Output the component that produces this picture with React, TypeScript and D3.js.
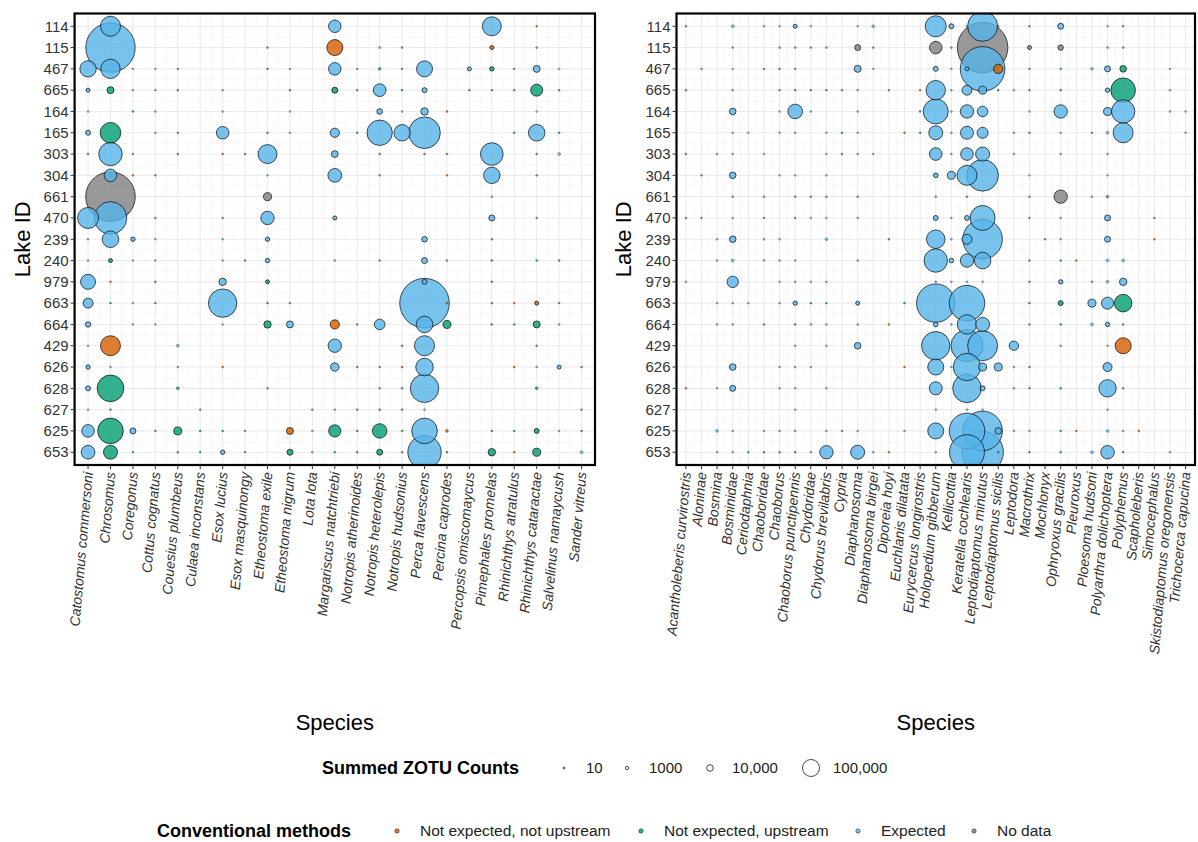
import React from 'react';
import * as d3 from 'd3';

// Lake IDs, top to bottom
const lakes = ['114', '115', '467', '665', '164', '165', '303', '304', '661', '470', '239', '240', '979', '663', '664', '429', '626', '628', '627', '625', '653'];

const fishSpecies = [
  'Catostomus commersoni', 'Chrosomus', 'Coregonus', 'Cottus cognatus', 'Couesius plumbeus',
  'Culaea inconstans', 'Esox lucius', 'Esox masquinongy', 'Etheostoma exile', 'Etheostoma nigrum',
  'Lota lota', 'Margariscus natchtriebi', 'Notropis atherinoides', 'Notropis heterolepis',
  'Notropis hudsonius', 'Perca flavescens', 'Percina caprodes', 'Percopsis omiscomaycus',
  'Pimephales promelas', 'Rhinichthys atratulus', 'Rhinichthys cataractae', 'Salvelinus namaycush',
  'Sander vitreus',
];

const zooSpecies = [
  'Acantholeberis curvirostris', 'Aloninae', 'Bosmina', 'Bosminidae', 'Ceriodaphnia', 'Chaoboridae',
  'Chaoborus', 'Chaoborus punctipennis', 'Chydoridae', 'Chydorus brevilabris', 'Cypria',
  'Diaphanosoma', 'Diaphanosoma birgei', 'Diporeia hoyi', 'Euchlanis dilatata',
  'Eurycercus longirostris', 'Holopedium gibberum', 'Kellicottia', 'Keratella cochlearis',
  'Leptodiaptomus minutus', 'Leptodiaptomus sicilis', 'Leptodora', 'Macrothrix', 'Mochlonyx',
  'Ophryoxus gracilis', 'Pleuroxus', 'Ploesoma hudsoni', 'Polyarthra dolichoptera', 'Polyphemus',
  'Scapholeberis', 'Simocephalus', 'Skistodiaptomus oregonensis', 'Trichocerca capucina',
];

// status: o = not expected, not upstream; g = not expected, upstream; b = expected; n = no data
type Obs = [number, string, number]; // [species index, status, summed ZOTU count]

// one list per lake, same order as `lakes`
const fishObs: Obs[][] = [
  [[1, 'b', 144000], [11, 'b', 50000], [18, 'b', 128000], [20, 'o', 10]],
  [[1, 'b', 982000], [8, 'o', 10], [11, 'o', 87500], [13, 'o', 10], [14, 'o', 10], [18, 'o', 2100], [20, 'o', 10]],
  [[0, 'b', 92000], [1, 'b', 134500], [2, 'b', 10], [3, 'b', 10], [4, 'o', 10], [8, 'g', 10], [9, 'b', 10], [11, 'b', 50000], [12, 'o', 10], [13, 'g', 600], [14, 'g', 10], [15, 'b', 87500], [17, 'b', 2100], [18, 'g', 3000], [19, 'o', 10], [20, 'b', 11700], [21, 'b', 10]],
  [[0, 'b', 2100], [1, 'g', 11700], [2, 'b', 10], [3, 'b', 10], [4, 'g', 10], [6, 'b', 10], [9, 'g', 10], [11, 'g', 7650], [12, 'o', 10], [13, 'b', 52000], [14, 'g', 10], [15, 'b', 4400], [17, 'g', 10], [18, 'g', 10], [19, 'o', 10], [20, 'g', 45000], [21, 'g', 10]],
  [[0, 'b', 10], [2, 'g', 10], [3, 'b', 10], [6, 'b', 10], [9, 'b', 10], [13, 'b', 6300], [14, 'b', 10], [15, 'b', 13600], [16, 'o', 10], [20, 'b', 10]],
  [[0, 'b', 4400], [1, 'g', 153500], [3, 'b', 10], [4, 'o', 10], [6, 'b', 50600], [8, 'o', 10], [9, 'b', 10], [11, 'b', 24000], [12, 'g', 10], [13, 'b', 241000], [14, 'b', 92500], [15, 'b', 385000], [19, 'g', 10], [20, 'b', 95000], [21, 'g', 10]],
  [[0, 'o', 10], [1, 'b', 202000], [2, 'o', 10], [4, 'o', 10], [6, 'o', 10], [7, 'o', 10], [8, 'b', 128000], [11, 'b', 11000], [13, 'o', 10], [15, 'o', 10], [16, 'o', 10], [18, 'b', 188000], [20, 'o', 10], [21, 'b', 600]],
  [[1, 'b', 50600], [2, 'o', 10], [3, 'o', 10], [8, 'b', 10], [11, 'b', 62000], [13, 'o', 10], [16, 'o', 10], [18, 'b', 92500], [20, 'o', 10]],
  [[1, 'n', 990000], [8, 'n', 16700], [18, 'n', 10]],
  [[0, 'b', 160000], [1, 'b', 412000], [3, 'n', 10], [6, 'n', 10], [8, 'b', 58400], [11, 'b', 2100], [18, 'b', 7650], [20, 'n', 10]],
  [[0, 'b', 10], [1, 'b', 95000], [2, 'b', 2900], [3, 'b', 10], [6, 'b', 10], [8, 'b', 2900], [15, 'b', 6300], [18, 'o', 10]],
  [[0, 'b', 10], [1, 'g', 2100], [2, 'b', 10], [3, 'b', 10], [6, 'b', 10], [7, 'o', 10], [8, 'b', 2900], [11, 'b', 10], [13, 'o', 10], [15, 'b', 7650], [16, 'o', 10], [18, 'g', 10], [20, 'g', 10], [21, 'g', 10]],
  [[0, 'b', 75600], [1, 'o', 10], [3, 'g', 10], [6, 'b', 13600], [8, 'g', 2100], [15, 'b', 4400], [18, 'g', 10]],
  [[0, 'b', 29000], [1, 'g', 10], [2, 'b', 10], [3, 'g', 10], [6, 'b', 307000], [8, 'g', 10], [9, 'o', 10], [15, 'b', 990000], [16, 'o', 10], [18, 'g', 10], [19, 'o', 10], [20, 'o', 2100], [21, 'o', 10]],
  [[0, 'b', 5600], [2, 'b', 10], [3, 'b', 10], [6, 'b', 10], [8, 'g', 13600], [9, 'b', 11700], [11, 'o', 24000], [12, 'o', 10], [13, 'b', 33600], [15, 'b', 95000], [16, 'g', 16700], [18, 'g', 10], [19, 'g', 10], [20, 'g', 11700], [21, 'b', 10]],
  [[0, 'b', 10], [1, 'o', 143700], [4, 'b', 600], [11, 'b', 58000], [14, 'o', 10], [15, 'b', 143700], [20, 'o', 10]],
  [[0, 'b', 2900], [1, 'b', 10], [4, 'b', 10], [6, 'o', 10], [11, 'b', 19000], [12, 'o', 10], [13, 'o', 10], [14, 'o', 10], [15, 'b', 108000], [19, 'o', 10], [20, 'b', 10], [21, 'b', 2100], [22, 'o', 10]],
  [[0, 'b', 4400], [1, 'g', 267000], [4, 'g', 600], [8, 'o', 10], [13, 'o', 10], [14, 'g', 10], [15, 'b', 307000], [20, 'g', 600]],
  [[0, 'b', 10], [1, 'g', 10], [5, 'o', 10], [10, 'o', 10], [11, 'b', 10], [12, 'o', 10], [13, 'g', 10], [14, 'g', 10], [15, 'b', 10], [22, 'o', 10]],
  [[0, 'b', 50600], [1, 'g', 246000], [2, 'b', 7650], [3, 'g', 10], [4, 'g', 16700], [5, 'g', 10], [6, 'g', 10], [7, 'o', 10], [9, 'o', 11700], [10, 'b', 10], [11, 'g', 47000], [12, 'g', 10], [13, 'g', 70000], [14, 'g', 10], [15, 'b', 246000], [16, 'o', 600], [18, 'g', 10], [19, 'g', 10], [20, 'g', 4400], [21, 'b', 10], [22, 'g', 10]],
  [[0, 'b', 62000], [1, 'g', 64600], [2, 'g', 10], [4, 'g', 10], [5, 'g', 10], [6, 'b', 2900], [7, 'g', 10], [9, 'g', 7650], [10, 'b', 10], [11, 'g', 10], [12, 'g', 10], [13, 'g', 7650], [14, 'g', 10], [15, 'b', 433000], [16, 'g', 10], [18, 'g', 13600], [19, 'o', 10], [20, 'g', 16700], [22, 'b', 600]],
];

const zooObs: Obs[][] = [
  [[0, 'o', 10], [3, 'b', 600], [5, 'b', 10], [6, 'b', 10], [7, 'b', 2100], [8, 'b', 10], [11, 'b', 10], [12, 'b', 600], [16, 'b', 160000], [17, 'b', 4400], [18, 'b', 10], [19, 'b', 345000], [20, 'o', 10], [22, 'o', 10], [24, 'b', 7650], [27, 'b', 10], [28, 'o', 10]],
  [[3, 'n', 10], [6, 'n', 10], [7, 'n', 10], [8, 'n', 10], [9, 'n', 10], [11, 'n', 7650], [12, 'n', 10], [16, 'n', 50000], [17, 'n', 10], [19, 'n', 1033000], [22, 'n', 2100], [24, 'n', 5600], [27, 'n', 10], [28, 'n', 10]],
  [[1, 'n', 10], [3, 'b', 10], [5, 'g', 10], [6, 'g', 10], [7, 'g', 10], [11, 'b', 11700], [12, 'b', 10], [16, 'b', 4400], [17, 'b', 10], [18, 'b', 2100], [19, 'b', 794000], [20, 'o', 25000], [22, 'g', 10], [24, 'g', 10], [26, 'b', 600], [27, 'b', 7650], [28, 'g', 10000], [31, 'b', 10]],
  [[0, 'o', 10], [3, 'b', 10], [6, 'g', 10], [7, 'g', 10], [8, 'g', 10], [9, 'g', 10], [10, 'o', 10], [11, 'b', 10], [13, 'o', 10], [15, 'o', 10], [16, 'b', 134500], [17, 'b', 10], [18, 'b', 29000], [19, 'b', 16700], [20, 'g', 10], [21, 'b', 10], [22, 'g', 10], [24, 'g', 10], [27, 'b', 2900], [28, 'g', 225000], [31, 'b', 10]],
  [[3, 'b', 10000], [6, 'b', 10], [7, 'b', 71000], [8, 'b', 10], [11, 'b', 10], [15, 'g', 10], [16, 'b', 233000], [17, 'b', 10], [18, 'b', 58400], [19, 'b', 33600], [22, 'b', 10], [24, 'b', 58400], [27, 'b', 16700], [28, 'b', 202000], [31, 'b', 10], [32, 'b', 10]],
  [[3, 'b', 10], [4, 'b', 10], [6, 'b', 10], [7, 'b', 10], [9, 'b', 10], [10, 'g', 10], [11, 'b', 10], [14, 'o', 10], [15, 'g', 10], [16, 'b', 64600], [17, 'b', 10], [18, 'b', 54400], [19, 'b', 36700], [21, 'b', 10], [22, 'g', 10], [24, 'b', 10], [26, 'o', 10], [27, 'b', 600], [28, 'b', 143700], [32, 'b', 10]],
  [[0, 'o', 10], [2, 'b', 10], [3, 'b', 10], [5, 'b', 10], [9, 'b', 10], [10, 'o', 10], [11, 'b', 10], [12, 'b', 10], [16, 'b', 50600], [17, 'b', 10], [18, 'b', 50600], [19, 'b', 64600], [21, 'b', 10], [24, 'b', 10], [27, 'b', 10]],
  [[1, 'o', 10], [3, 'b', 10000], [6, 'b', 10], [7, 'b', 10], [9, 'b', 10], [16, 'b', 3500], [17, 'b', 16700], [18, 'b', 143700], [19, 'b', 385000], [22, 'b', 10], [27, 'b', 10]],
  [[3, 'n', 10], [5, 'n', 10], [7, 'n', 10], [8, 'n', 10], [9, 'n', 10], [11, 'n', 10], [16, 'n', 10], [18, 'n', 10], [22, 'n', 10], [24, 'n', 58400], [26, 'n', 10], [27, 'n', 600]],
  [[0, 'n', 10], [1, 'n', 10], [3, 'b', 10], [5, 'n', 10], [7, 'n', 10], [8, 'b', 10], [9, 'b', 10], [11, 'b', 10], [16, 'b', 4400], [17, 'b', 10], [18, 'b', 4400], [19, 'b', 233000], [22, 'n', 10], [24, 'b', 10], [27, 'b', 7650], [30, 'n', 10]],
  [[2, 'b', 10], [3, 'b', 10000], [5, 'b', 10], [6, 'b', 10], [9, 'b', 600], [13, 'o', 10], [16, 'b', 122000], [17, 'b', 10], [18, 'b', 29000], [19, 'b', 620000], [23, 'o', 10], [24, 'b', 10], [27, 'b', 7650], [30, 'o', 10]],
  [[2, 'b', 10], [3, 'b', 600], [5, 'b', 10], [6, 'b', 10], [7, 'b', 10], [11, 'b', 10], [16, 'b', 202000], [17, 'b', 3500], [18, 'b', 58400], [19, 'b', 95000], [22, 'g', 10], [24, 'g', 10], [25, 'o', 10], [27, 'b', 600], [28, 'b', 600]],
  [[0, 'b', 10], [3, 'b', 40000], [6, 'b', 10], [7, 'b', 10], [8, 'b', 10], [9, 'b', 10], [16, 'b', 10], [17, 'b', 10], [18, 'b', 10], [19, 'b', 10], [22, 'g', 10], [24, 'b', 2900], [26, 'o', 10], [27, 'b', 600], [28, 'b', 13600]],
  [[2, 'b', 10], [3, 'b', 10], [4, 'b', 10], [6, 'b', 10], [7, 'b', 2900], [8, 'g', 10], [9, 'g', 10], [11, 'b', 2100], [14, 'g', 10], [16, 'b', 582000], [18, 'b', 495000], [22, 'g', 10], [24, 'g', 4400], [26, 'b', 16700], [27, 'b', 45000], [28, 'g', 108000]],
  [[2, 'b', 10], [3, 'b', 10], [5, 'g', 10], [7, 'g', 10], [8, 'b', 10], [9, 'b', 10], [11, 'b', 10], [13, 'o', 10], [16, 'b', 3500], [17, 'b', 10], [18, 'b', 134500], [19, 'b', 64600], [22, 'g', 10], [24, 'g', 10], [26, 'b', 600], [27, 'b', 2900], [28, 'g', 10]],
  [[7, 'b', 10], [9, 'b', 10], [11, 'b', 10000], [16, 'b', 307000], [18, 'b', 396000], [19, 'b', 345000], [21, 'b', 25000], [24, 'b', 10], [27, 'b', 10], [28, 'o', 87500]],
  [[3, 'b', 10000], [6, 'b', 10], [7, 'b', 10], [8, 'b', 10], [14, 'o', 10], [16, 'b', 87500], [17, 'b', 10], [18, 'b', 284000], [19, 'b', 16700], [20, 'b', 16700], [21, 'b', 10], [22, 'o', 10], [27, 'b', 22500]],
  [[0, 'o', 10], [2, 'b', 10], [3, 'b', 7650], [6, 'b', 10], [7, 'b', 10], [9, 'b', 10], [16, 'b', 54400], [18, 'b', 312000], [19, 'b', 4400], [21, 'b', 10], [22, 'o', 10], [24, 'g', 10], [27, 'b', 105500], [28, 'g', 10]],
  [[7, 'b', 10], [16, 'b', 10], [18, 'b', 10], [19, 'b', 10], [27, 'b', 10]],
  [[2, 'b', 600], [3, 'b', 10], [5, 'b', 10], [6, 'b', 10], [7, 'b', 10], [9, 'b', 10], [10, 'o', 10], [11, 'b', 10], [14, 'b', 10], [16, 'b', 87500], [18, 'b', 495000], [19, 'b', 620000], [20, 'b', 10000], [21, 'b', 10], [22, 'b', 10], [24, 'g', 10], [25, 'o', 10], [27, 'b', 600], [28, 'b', 10], [29, 'o', 10]],
  [[2, 'b', 10], [3, 'b', 10], [4, 'g', 10], [5, 'g', 10], [6, 'g', 10], [7, 'g', 10], [8, 'b', 10], [9, 'b', 58400], [11, 'b', 64600], [12, 'b', 10], [13, 'o', 10], [16, 'b', 10], [18, 'b', 478000], [19, 'b', 688000], [20, 'g', 10], [22, 'g', 10], [24, 'g', 10], [26, 'b', 600], [27, 'b', 60000], [28, 'g', 10], [31, 'b', 10]],
];

const statusKeys = ['o', 'g', 'b', 'n'];
const statusLabels = ['Not expected, not upstream', 'Not expected, upstream', 'Expected', 'No data'];
const statusColors = ['#D55E00', '#009E73', '#56B4E9', '#7F7F7F'];

const sizeBreaks = [10, 1000, 10000, 100000];
const sizeLabels = ['10', '1000', '10,000', '100,000'];
const maxCount = 1200000;

const W = 1198;
const H = 842;
const TOP = 13.5;
const BOTTOM = 465;
const FONT = '"Liberation Sans", Arial, Helvetica, sans-serif';

const color = d3.scaleOrdinal<string, string>().domain(statusKeys).range(statusColors);
const sizeScale = d3.scaleSqrt().domain([0, maxCount]).range([0, 26.3]);
const radius = (v: number) => 0.9 + sizeScale(v);

const y = d3.scalePoint<string>().domain(lakes).range([TOP, BOTTOM]).padding(0.6);

interface PanelProps {
  id: string;
  species: string[];
  obs: Obs[][];
  x0: number;
  x1: number;
  yTitleX: number;
}

const Panel: React.FC<PanelProps> = ({ id, species, obs, x0, x1, yTitleX }) => {
  const x = d3.scalePoint<string>().domain(species).range([x0, x1]).padding(0.6);
  const step = x.step();
  const yStep = y.step();

  const points = obs
    .flatMap((row, i) => row.map(([s, st, v]) => ({ lake: lakes[i], sp: species[s], st, v })))
    .sort((a, b) => b.v - a.v);

  const minorX = species.slice(1).map((s) => (x(s) as number) - step / 2);
  const minorY = lakes.slice(1).map((l) => (y(l) as number) - yStep / 2);

  return (
    <g>
      <defs>
        <clipPath id={`clip-${id}`}>
          <rect x={x0} y={TOP} width={x1 - x0} height={BOTTOM - TOP} />
        </clipPath>
      </defs>
      <rect x={x0} y={TOP} width={x1 - x0} height={BOTTOM - TOP} fill="#fff" />
      {minorX.map((v, i) => (
        <line key={`mx${i}`} x1={v} x2={v} y1={TOP} y2={BOTTOM} stroke="#F2F2F2" strokeWidth={0.6} />
      ))}
      {minorY.map((v, i) => (
        <line key={`my${i}`} x1={x0} x2={x1} y1={v} y2={v} stroke="#F2F2F2" strokeWidth={0.6} />
      ))}
      {species.map((s) => (
        <line key={`gx${s}`} x1={x(s)} x2={x(s)} y1={TOP} y2={BOTTOM} stroke="#EBEBEB" strokeWidth={1.1} />
      ))}
      {lakes.map((l) => (
        <line key={`gy${l}`} x1={x0} x2={x1} y1={y(l)} y2={y(l)} stroke="#EBEBEB" strokeWidth={1.1} />
      ))}
      <g clipPath={`url(#clip-${id})`}>
        {points.map((p, i) => {
          const r = radius(p.v);
          return (
            <circle
              key={i}
              cx={x(p.sp)}
              cy={y(p.lake)}
              r={r}
              fill={color(p.st)}
              fillOpacity={0.8}
              stroke="#000"
              strokeOpacity={0.75}
              strokeWidth={r < 1.6 ? 0.35 : 0.9}
            />
          );
        })}
      </g>
      <rect x={x0} y={TOP} width={x1 - x0} height={BOTTOM - TOP} fill="none" stroke="#000" strokeWidth={2.2} />
      {lakes.map((l) => (
        <g key={`ty${l}`}>
          <line x1={x0 - 4} x2={x0} y1={y(l)} y2={y(l)} stroke="#333" strokeWidth={1} />
          <text x={x0 - 6} y={y(l)} dy="0.35em" textAnchor="end" fontSize={15} fill="#333" fontFamily={FONT}>
            {l}
          </text>
        </g>
      ))}
      {species.map((s) => (
        <g key={`tx${s}`}>
          <line x1={x(s)} x2={x(s)} y1={BOTTOM} y2={BOTTOM + 4} stroke="#333" strokeWidth={1} />
          <text
            transform={`translate(${x(s)},${BOTTOM + 7}) rotate(-85)`}
            dy="0.35em"
            textAnchor="end"
            fontSize={14}
            fontStyle="italic"
            fill="#333"
            fontFamily={FONT}
          >
            {s}
          </text>
        </g>
      ))}
      <text
        transform={`translate(${yTitleX},${(TOP + BOTTOM) / 2}) rotate(-90)`}
        dy="0.35em"
        textAnchor="middle"
        fontSize={22}
        fill="#000"
        fontFamily={FONT}
      >
        Lake ID
      </text>
      <text x={(x0 + x1) / 2} y={722} dy="0.35em" textAnchor="middle" fontSize={22} fill="#000" fontFamily={FONT}>
        Species
      </text>
    </g>
  );
};

const SizeLegend: React.FC = () => {
  const keyX = [564, 627, 710, 811];
  const cy = 768;
  return (
    <g fontFamily={FONT}>
      <text x={322} y={cy} dy="0.35em" fontSize={18} fontWeight="bold" fill="#000">
        Summed ZOTU Counts
      </text>
      {sizeBreaks.map((v, i) => (
        <g key={v}>
          <circle cx={keyX[i]} cy={cy} r={radius(v)} fill="none" stroke="#333" strokeWidth={0.9} />
          <text x={keyX[i] + 22} y={cy} dy="0.35em" fontSize={15} fill="#222">
            {sizeLabels[i]}
          </text>
        </g>
      ))}
    </g>
  );
};

const StatusLegend: React.FC = () => {
  const keyX = [397, 641, 858, 974];
  const cy = 831;
  return (
    <g fontFamily={FONT}>
      <text x={157} y={cy} dy="0.35em" fontSize={18} fontWeight="bold" fill="#000">
        Conventional methods
      </text>
      {statusKeys.map((k, i) => (
        <g key={k}>
          <circle cx={keyX[i]} cy={cy} r={2.2} fill={color(k)} fillOpacity={0.8} stroke="#000" strokeOpacity={0.75} strokeWidth={0.6} />
          <text x={keyX[i] + 23} y={cy} dy="0.35em" fontSize={15.5} fill="#222">
            {statusLabels[i]}
          </text>
        </g>
      ))}
    </g>
  );
};

export default function App() {
  return (
    <div style={{ position: 'fixed', left: 0, top: 0, width: W, height: H, background: '#fff' }}>
      <svg width={W} height={H} viewBox={`0 0 ${W} ${H}`}>
        <rect width={W} height={H} fill="#fff" />
        <Panel id="fish" species={fishSpecies} obs={fishObs} x0={74.6} x1={595} yTitleX={22} />
        <Panel id="zoo" species={zooSpecies} obs={zooObs} x0={676.5} x1={1195} yTitleX={623} />
        <SizeLegend />
        <StatusLegend />
      </svg>
    </div>
  );
}
